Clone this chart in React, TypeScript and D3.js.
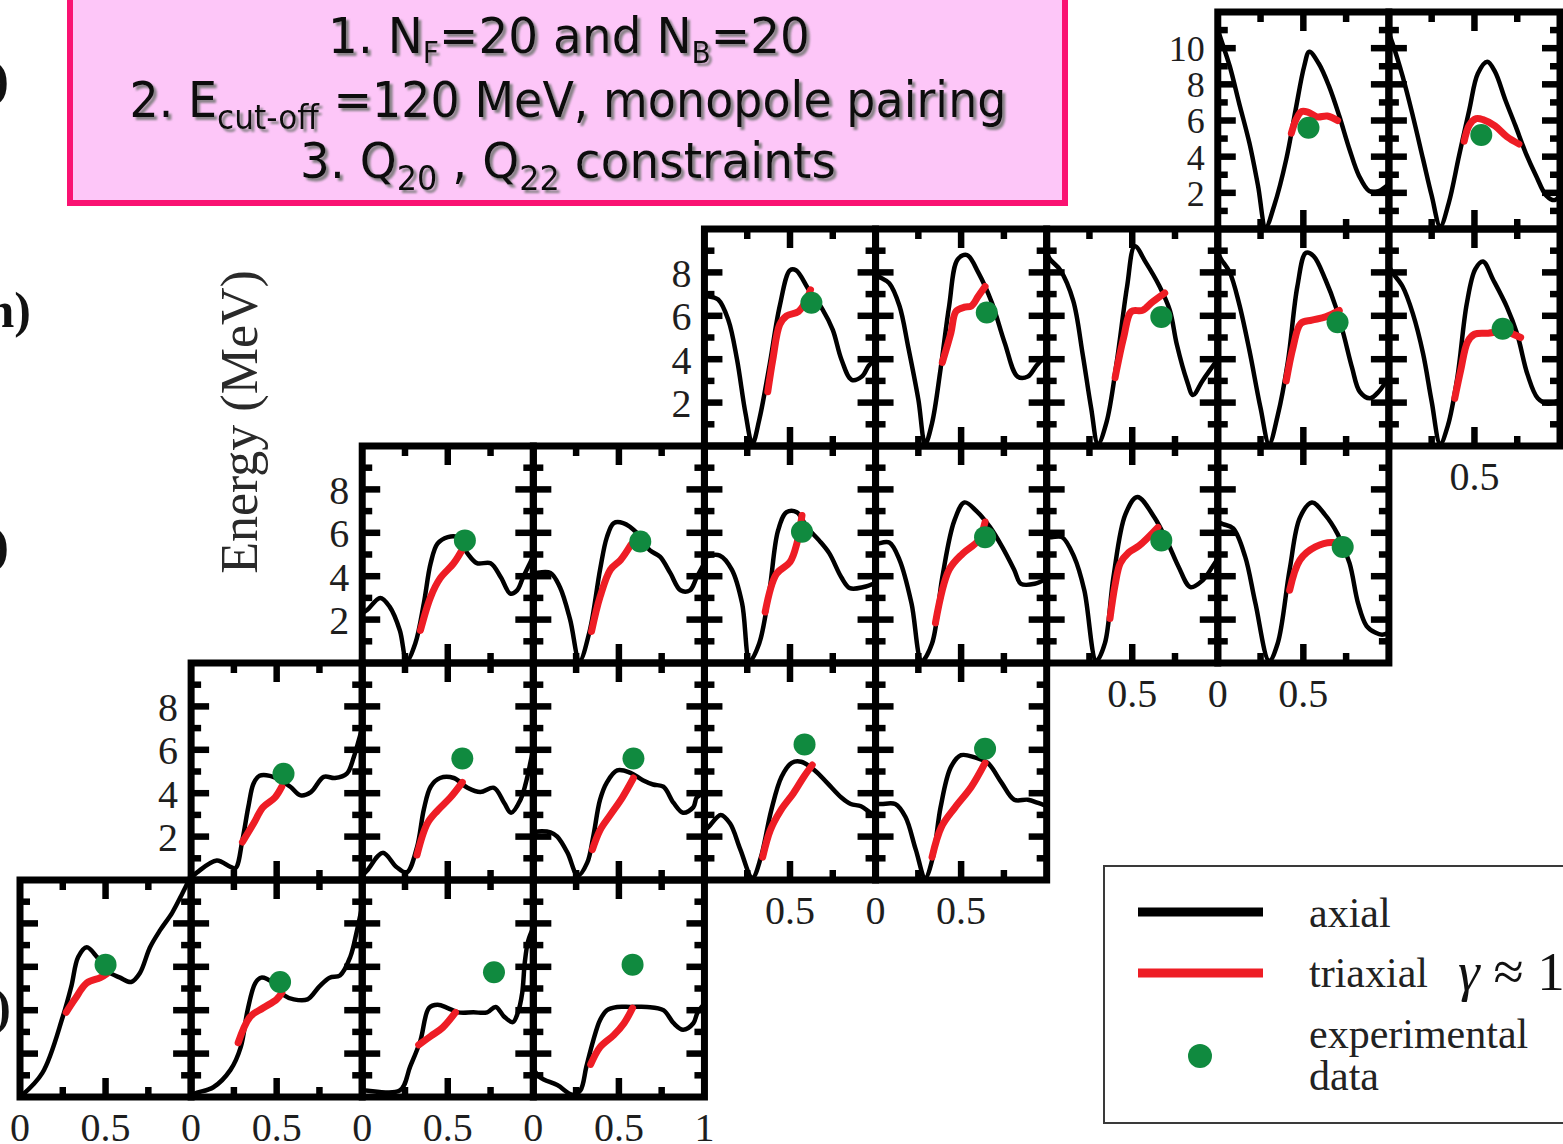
import React from 'react';
import * as d3 from 'd3';

const W = 1563;
const H = 1144;

// Panel placement in the staircase grid (row, column)
const panelRows = [0, 0, 1, 1, 1, 1, 1, 2, 2, 2, 2, 2, 2, 3, 3, 3, 3, 3, 4, 4, 4, 4];
const panelCols = [7, 8, 4, 5, 6, 7, 8, 2, 3, 4, 5, 6, 7, 1, 2, 3, 4, 5, 0, 1, 2, 3];

// Energy range (MeV) of each row and its labelled ticks
const rowMaxEnergy = [12, 10, 10, 10, 10];
const rowYLabels = [[2, 4, 6, 8, 10], [2, 4, 6, 8], [2, 4, 6, 8], [2, 4, 6, 8], []];
const rowYLabelSize = [36, 40, 40, 40, 40];

// Deformation tick labels drawn under each panel
const panelXLabels = [
  [], [],
  [], [], [], [], [0.5],
  [], [], [], [], [0.5], [0, 0.5],
  [], [], [], [0.5], [0, 0.5],
  [0, 0.5], [0, 0.5], [0, 0.5], [0, 0.5, 1],
];

// Axial energy curves: [deformation, energy MeV]
const axialCurves: [number, number][][] = [
  [[0, 11.0], [0.02, 10.45], [0.07, 9.0], [0.125, 6.95], [0.185, 4.75], [0.235, 2.4], [0.28, 0.1], [0.33, 1.3], [0.4, 3.85], [0.455, 6.6], [0.505, 9.0], [0.535, 9.8], [0.59, 9.15], [0.65, 7.9], [0.71, 6.25], [0.77, 4.4], [0.825, 2.95], [0.885, 2.1], [0.94, 2.1], [1, 2.5]],
  [[0, 10.8], [0.02, 10.3], [0.08, 8.45], [0.14, 6.25], [0.2, 3.85], [0.25, 1.85], [0.3, 0.15], [0.35, 1.45], [0.41, 4.05], [0.47, 6.6], [0.52, 8.6], [0.575, 9.25], [0.62, 8.7], [0.68, 7.15], [0.74, 5.7], [0.8, 4.2], [0.86, 2.95], [0.92, 1.85], [0.97, 1.6], [1, 1.9]],
  [[0, 6.9], [0.02, 6.9], [0.08, 6.75], [0.14, 5.8], [0.19, 4.0], [0.24, 1.5], [0.28, 0.1], [0.32, 1.2], [0.38, 3.7], [0.44, 6.45], [0.5, 8.1], [0.535, 8.1], [0.61, 7.2], [0.69, 6.3], [0.75, 5.35], [0.8, 4.0], [0.86, 3.05], [0.92, 3.2], [0.96, 3.7], [1, 4.0]],
  [[0, 7.9], [0.02, 7.8], [0.08, 7.5], [0.14, 6.45], [0.19, 4.6], [0.25, 2.15], [0.29, 0.1], [0.33, 1.05], [0.38, 3.55], [0.43, 6.45], [0.48, 8.6], [0.535, 8.8], [0.6, 8.0], [0.68, 6.6], [0.755, 4.75], [0.83, 3.2], [0.89, 3.2], [0.94, 3.7], [1, 4.2]],
  [[0, 8.9], [0.02, 8.6], [0.08, 8.1], [0.155, 6.7], [0.21, 4.25], [0.26, 1.75], [0.3, 0.1], [0.35, 1.1], [0.41, 3.9], [0.47, 7.35], [0.515, 9.2], [0.58, 8.45], [0.66, 7.35], [0.72, 6.25], [0.76, 4.7], [0.82, 3.0], [0.855, 2.35], [0.91, 3.0], [0.95, 3.45], [1, 4.0]],
  [[0, 8.9], [0.02, 8.6], [0.07, 8.0], [0.125, 6.55], [0.185, 4.4], [0.25, 1.75], [0.3, 0.1], [0.35, 1.4], [0.41, 3.9], [0.465, 7.35], [0.515, 8.9], [0.56, 8.75], [0.63, 7.65], [0.69, 6.4], [0.735, 5.15], [0.785, 3.6], [0.83, 2.5], [0.89, 2.2], [0.94, 2.5], [1, 3.2]],
  [[0, 8.3], [0.02, 8.0], [0.08, 7.35], [0.14, 6.1], [0.2, 4.25], [0.25, 2.05], [0.3, 0.1], [0.345, 0.95], [0.4, 3.15], [0.455, 6.55], [0.505, 8.15], [0.55, 8.5], [0.61, 7.65], [0.69, 6.4], [0.75, 5.15], [0.81, 3.3], [0.87, 2.2], [0.93, 1.95], [0.98, 2.05], [1, 2.1]],
  [[0, 2.3], [0.03, 2.45], [0.105, 3.0], [0.16, 2.6], [0.22, 1.5], [0.26, 0.1], [0.31, 0.9], [0.36, 2.75], [0.4, 4.6], [0.44, 5.5], [0.5, 5.8], [0.555, 5.8], [0.615, 5.05], [0.67, 4.6], [0.75, 4.6], [0.81, 3.95], [0.865, 3.2], [0.905, 3.35], [0.94, 3.95], [0.98, 4.6], [1, 4.9]],
  [[0, 4.1], [0.02, 4.15], [0.1, 4.15], [0.155, 3.5], [0.215, 2.0], [0.27, 0.1], [0.33, 1.5], [0.39, 4.3], [0.43, 5.8], [0.47, 6.45], [0.525, 6.45], [0.605, 6.0], [0.68, 5.2], [0.74, 4.9], [0.8, 4.15], [0.86, 3.35], [0.915, 3.35], [0.955, 3.95], [1, 4.6]],
  [[0, 4.85], [0.01, 4.9], [0.09, 4.95], [0.16, 4.3], [0.22, 2.75], [0.265, 0.1], [0.32, 0.9], [0.38, 3.35], [0.43, 6.1], [0.48, 6.95], [0.54, 6.95], [0.6, 6.25], [0.67, 5.65], [0.73, 5.05], [0.8, 3.95], [0.85, 3.45], [0.93, 3.5], [1, 3.7]],
  [[0, 5.5], [0.01, 5.5], [0.08, 5.55], [0.14, 4.75], [0.21, 2.75], [0.27, 0.1], [0.33, 0.9], [0.39, 3.95], [0.46, 6.55], [0.52, 7.4], [0.59, 7.0], [0.67, 6.25], [0.74, 5.35], [0.81, 4.3], [0.85, 3.65], [0.93, 3.65], [1, 3.9]],
  [[0, 5.8], [0.03, 5.8], [0.09, 5.8], [0.16, 4.9], [0.22, 3.35], [0.29, 0.1], [0.34, 0.9], [0.39, 3.95], [0.46, 6.85], [0.53, 7.65], [0.63, 6.7], [0.71, 5.5], [0.77, 4.45], [0.84, 3.5], [0.91, 3.8], [0.97, 4.45], [1, 4.8]],
  [[0, 6.5], [0.03, 6.4], [0.09, 6.2], [0.16, 4.9], [0.22, 2.75], [0.3, 0.1], [0.35, 0.9], [0.42, 4.3], [0.48, 6.7], [0.55, 7.4], [0.625, 6.85], [0.7, 5.95], [0.77, 4.6], [0.82, 2.75], [0.87, 1.7], [0.92, 1.4], [0.96, 1.3], [1, 1.4]],
  [[0, 0.1], [0.035, 0.35], [0.15, 0.9], [0.23, 0.6], [0.26, 0.55], [0.3, 1.85], [0.335, 3.4], [0.365, 4.45], [0.4, 4.8], [0.46, 4.8], [0.52, 4.6], [0.58, 4.3], [0.64, 3.9], [0.7, 4.05], [0.775, 4.75], [0.84, 4.7], [0.91, 4.9], [0.95, 5.65], [0.98, 6.45], [1, 7.0]],
  [[0, 0.2], [0.03, 0.45], [0.12, 1.25], [0.2, 0.6], [0.26, 0.35], [0.32, 1.5], [0.36, 3.25], [0.4, 4.3], [0.455, 4.7], [0.535, 4.7], [0.615, 4.25], [0.69, 4.05], [0.77, 4.25], [0.83, 3.55], [0.87, 3.1], [0.925, 3.7], [0.965, 4.75], [0.985, 5.5], [1, 6.0]],
  [[0, 2.2], [0.05, 2.25], [0.1, 2.2], [0.14, 2.0], [0.2, 1.25], [0.26, 0.2], [0.315, 0.8], [0.35, 2.0], [0.39, 3.7], [0.43, 4.5], [0.49, 5.05], [0.565, 4.95], [0.64, 4.6], [0.7, 4.4], [0.76, 4.3], [0.82, 3.55], [0.875, 3.1], [0.935, 3.35], [0.955, 3.8], [1, 4.0]],
  [[0, 2.3], [0.025, 2.45], [0.095, 3.0], [0.15, 2.6], [0.21, 1.4], [0.28, 0.1], [0.33, 1.05], [0.39, 3.2], [0.45, 4.75], [0.51, 5.4], [0.565, 5.45], [0.645, 5.05], [0.72, 4.45], [0.8, 3.8], [0.855, 3.5], [0.915, 3.4], [0.97, 3.1], [1, 3.0]],
  [[0, 3.5], [0.035, 3.5], [0.115, 3.5], [0.175, 2.9], [0.235, 1.4], [0.29, 0.1], [0.335, 1.05], [0.38, 3.35], [0.44, 5.2], [0.5, 5.75], [0.58, 5.65], [0.655, 5.4], [0.735, 4.5], [0.81, 3.7], [0.89, 3.7], [0.95, 3.55], [1, 3.4]],
  [[0, 0], [0.13, 1.1], [0.25, 3.7], [0.3, 5.1], [0.34, 6.45], [0.39, 6.9], [0.45, 6.45], [0.51, 5.8], [0.585, 5.5], [0.65, 5.3], [0.7, 5.7], [0.76, 6.9], [0.82, 7.7], [0.89, 8.5], [0.95, 9.4], [1, 10.2]],
  [[0, 0.1], [0.035, 0.2], [0.13, 0.45], [0.23, 1.25], [0.29, 2.3], [0.33, 4.0], [0.375, 5.25], [0.41, 5.5], [0.48, 5.25], [0.54, 4.7], [0.6, 4.5], [0.68, 4.5], [0.75, 5.1], [0.81, 5.5], [0.87, 5.6], [0.93, 6.45], [0.97, 7.7], [1, 8.8]],
  [[0, 0.3], [0.02, 0.3], [0.22, 0.3], [0.28, 1.4], [0.34, 2.6], [0.39, 4.1], [0.44, 4.25], [0.5, 4.1], [0.56, 3.9], [0.65, 3.9], [0.73, 3.9], [0.78, 4.15], [0.83, 3.7], [0.88, 3.45], [0.91, 3.9], [0.935, 4.8], [0.95, 6.2], [0.97, 7.2], [1, 7.8]],
  [[0, 1.3], [0.04, 0.9], [0.14, 0.55], [0.23, 0.1], [0.275, 0.3], [0.31, 1.4], [0.35, 2.6], [0.39, 3.55], [0.43, 4.0], [0.49, 4.15], [0.57, 4.15], [0.665, 4.15], [0.76, 4.0], [0.82, 3.4], [0.875, 3.1], [0.935, 3.4], [0.96, 3.9], [1, 4.3]],
];

// Triaxial energy paths: [deformation, energy MeV]
const triaxialCurves: [number, number][][] = [
  [[0.43, 5.3], [0.46, 6.1], [0.49, 6.5], [0.53, 6.45], [0.58, 6.2], [0.64, 6.25], [0.7, 6.0]],
  [[0.44, 4.85], [0.47, 5.75], [0.51, 6.1], [0.55, 6.05], [0.62, 5.7], [0.69, 5.1], [0.76, 4.7]],
  [[0.37, 2.5], [0.4, 4.0], [0.44, 5.6], [0.48, 6.0], [0.55, 6.2], [0.6, 6.8], [0.62, 7.2]],
  [[0.39, 3.85], [0.44, 5.2], [0.47, 6.2], [0.52, 6.4], [0.56, 6.45], [0.6, 6.9], [0.64, 7.35]],
  [[0.4, 3.15], [0.45, 5.0], [0.495, 6.2], [0.56, 6.25], [0.62, 6.65], [0.69, 7.05]],
  [[0.4, 3.0], [0.44, 4.55], [0.485, 5.65], [0.55, 5.8], [0.63, 5.95], [0.71, 6.25]],
  [[0.385, 2.2], [0.42, 3.5], [0.46, 4.8], [0.5, 5.15], [0.58, 5.2], [0.68, 5.25], [0.77, 5.0]],
  [[0.34, 1.5], [0.4, 3.05], [0.455, 3.9], [0.535, 4.6], [0.59, 5.3]],
  [[0.34, 1.45], [0.39, 3.05], [0.45, 4.3], [0.51, 4.75], [0.57, 5.45]],
  [[0.355, 2.35], [0.42, 4.1], [0.5, 4.65], [0.54, 5.5], [0.57, 6.8]],
  [[0.35, 1.85], [0.43, 4.3], [0.51, 5.05], [0.6, 5.65], [0.64, 6.5]],
  [[0.37, 2.05], [0.4, 3.6], [0.43, 4.6], [0.48, 5.1], [0.54, 5.4], [0.65, 6.25]],
  [[0.42, 3.35], [0.48, 4.75], [0.57, 5.35], [0.675, 5.55], [0.73, 5.35]],
  [[0.3, 1.75], [0.365, 2.6], [0.42, 3.35], [0.49, 3.8], [0.53, 4.3]],
  [[0.32, 1.15], [0.38, 2.6], [0.44, 3.2], [0.515, 3.8], [0.585, 4.5]],
  [[0.345, 1.4], [0.39, 2.3], [0.45, 3.0], [0.52, 3.8], [0.585, 4.7]],
  [[0.34, 1.05], [0.385, 2.3], [0.445, 3.2], [0.52, 4.0], [0.58, 4.75], [0.63, 5.3]],
  [[0.33, 1.05], [0.385, 2.45], [0.465, 3.35], [0.56, 4.3], [0.64, 5.4]],
  [[0.27, 3.9], [0.32, 4.5], [0.39, 5.25], [0.47, 5.5], [0.51, 5.7]],
  [[0.275, 2.5], [0.345, 3.7], [0.42, 4.1], [0.5, 4.5], [0.53, 4.8]],
  [[0.33, 2.4], [0.4, 2.8], [0.47, 3.2], [0.545, 3.9]],
  [[0.335, 1.5], [0.39, 2.3], [0.47, 2.85], [0.53, 3.4], [0.58, 4.1]],
];

// Experimental data points: [deformation, energy MeV]
const experimentalPoints: [number, number][] = [
  [0.53, 5.6], [0.54, 5.2],
  [0.625, 6.6], [0.65, 6.15], [0.67, 5.95], [0.7, 5.7], [0.665, 5.4],
  [0.6, 5.65], [0.625, 5.6], [0.57, 6.05], [0.64, 5.8], [0.67, 5.65], [0.73, 5.35],
  [0.54, 4.9], [0.585, 5.6], [0.585, 5.6], [0.585, 6.25], [0.64, 6.05],
  [0.5, 6.1], [0.52, 5.3], [0.77, 5.75], [0.58, 6.1],
];

const legendItems = ['axial', 'triaxial', 'experimental'];

const colX = d3.scaleLinear().domain([0, 9]).range([20, 1560]);
const rowY = d3.scaleLinear().domain([0, 5]).range([12, 1097]);

const SERIF = '"Liberation Serif", "DejaVu Serif", "Times New Roman", serif';
const TITLE_FONT = '"DejaVu Sans Condensed", "DejaVu Sans", Verdana, sans-serif';
const RED = '#EE1D25';
const GREEN = '#108A3F';

function fmt(v: number) {
  return v === 0 ? '0' : v === 1 ? '1' : String(v);
}

function panelGeom(i: number) {
  const r = panelRows[i];
  const c = panelCols[i];
  const left = colX(c);
  const right = colX(c + 1);
  const top = rowY(r);
  const bottom = rowY(r + 1);
  const xs = d3.scaleLinear().domain([0, 1]).range([left, right]);
  const ys = d3.scaleLinear().domain([0, rowMaxEnergy[r]]).range([bottom, top]);
  return { r, c, left, right, top, bottom, xs, ys };
}

function PanelData({ i }: { i: number }) {
  const g = panelGeom(i);
  const line = d3
    .line<[number, number]>()
    .curve(d3.curveCatmullRom.alpha(0.5))
    .x((d) => g.xs(d[0]))
    .y((d) => g.ys(d[1]));
  const dot = experimentalPoints[i];
  return (
    <g>
      <g clipPath={`url(#clip${i})`}>
        <path d={line(axialCurves[i]) || ''} fill="none" stroke="#000" strokeWidth={4.5} strokeLinejoin="round" />
        <path d={line(triaxialCurves[i]) || ''} fill="none" stroke={RED} strokeWidth={7} strokeLinecap="round" strokeLinejoin="round" />
      </g>
      <circle cx={g.xs(dot[0])} cy={g.ys(dot[1])} r={11} fill={GREEN} />
    </g>
  );
}

function PanelFrame({ i }: { i: number }) {
  const g = panelGeom(i);
  const max = rowMaxEnergy[g.r];
  const yTicks = d3.range(1, max);
  const xTicks = [0.25, 0.5, 0.75];
  const tw = 6.5;
  return (
    <g stroke="#000">
      <rect x={g.left} y={g.top} width={g.right - g.left} height={g.bottom - g.top} fill="none" strokeWidth={7} />
      {yTicks.map((v) => {
        const len = v % 2 === 0 ? 18 : 10;
        const y = g.ys(v);
        return (
          <g key={`y${v}`} strokeWidth={tw}>
            <line x1={g.left} x2={g.left + len} y1={y} y2={y} />
            <line x1={g.right} x2={g.right - len} y1={y} y2={y} />
          </g>
        );
      })}
      {xTicks.map((v) => {
        const len = v === 0.5 ? 19 : 10;
        const x = g.xs(v);
        return (
          <g key={`x${v}`} strokeWidth={tw}>
            <line x1={x} x2={x} y1={g.bottom} y2={g.bottom - len} />
            <line x1={x} x2={x} y1={g.top} y2={g.top + len} />
          </g>
        );
      })}
    </g>
  );
}

function PanelLabels({ i }: { i: number }) {
  const g = panelGeom(i);
  const firstInRow = panelRows.indexOf(g.r) === i;
  const yLabels = firstInRow ? rowYLabels[g.r] : [];
  return (
    <g fontFamily={SERIF} fill="#1e1e1e">
      {yLabels.map((v) => (
        <text key={`yl${v}`} x={g.left - 13} y={g.ys(v)} dy="0.36em" textAnchor="end" fontSize={rowYLabelSize[g.r]}>
          {v}
        </text>
      ))}
      {panelXLabels[i].map((v) => (
        <text key={`xl${v}`} x={g.xs(v)} y={g.bottom + 44} textAnchor="middle" fontSize={40}>
          {fmt(v)}
        </text>
      ))}
    </g>
  );
}

export default function App() {
  const idx = d3.range(panelRows.length);
  return (
    <svg
      width={W}
      height={H}
      viewBox={`0 0 ${W} ${H}`}
      style={{ position: 'absolute', left: 0, top: 0, background: '#fff' }}
    >
      <defs>
        {idx.map((i) => {
          const g = panelGeom(i);
          return (
            <clipPath id={`clip${i}`} key={i}>
              <rect x={g.left} y={g.top} width={g.right - g.left} height={g.bottom - g.top} />
            </clipPath>
          );
        })}
        <filter id="titleShadow" x="-5%" y="-20%" width="110%" height="140%">
          <feDropShadow dx="3" dy="3" stdDeviation="1.2" floodColor="#7a7a7a" floodOpacity="0.9" />
        </filter>
      </defs>
      <rect x={0} y={0} width={W} height={H} fill="#fff" />

      {/* Title box */}
      <rect x={70} y={-8} width={995} height={211} fill="#FDC6F8" stroke="#FA1272" strokeWidth={6} />
      <g fontFamily={TITLE_FONT} fill="#111" filter="url(#titleShadow)" textAnchor="middle">
        <text x={569} y={53} fontSize={50} textLength={482} lengthAdjust="spacingAndGlyphs">
          1. N<tspan dy={10} fontSize={30}>F</tspan>
          <tspan dy={-10}>=20 and N</tspan>
          <tspan dy={10} fontSize={30}>B</tspan>
          <tspan dy={-10}>=20</tspan>
        </text>
        <text x={568} y={117} fontSize={50} textLength={877} lengthAdjust="spacingAndGlyphs">
          2. E<tspan dy={12} fontSize={34}>cut-off</tspan>
          <tspan dy={-12}> =120 MeV, monopole pairing</tspan>
        </text>
        <text x={568} y={178} fontSize={50} textLength={536} lengthAdjust="spacingAndGlyphs">
          3. Q<tspan dy={12} fontSize={34}>20</tspan>
          <tspan dy={-12}> , Q</tspan>
          <tspan dy={12} fontSize={34}>22</tspan>
          <tspan dy={-12}> constraints</tspan>
        </text>
      </g>

      {/* Row tags at the left edge */}
      <g fontFamily={SERIF} fontWeight="bold" fontSize={50} fill="#111" textAnchor="end">
        <text x={9} y={96}>)</text>
        <text x={31} y={327}>n)</text>
        <text x={9} y={562}>)</text>
        <text x={11} y={1024}>)</text>
      </g>

      {/* Energy axis title */}
      <text
        transform="translate(257,422) rotate(-90)"
        textAnchor="middle"
        fontFamily={SERIF}
        fontSize={52}
        fill="#2a2a2a"
      >
        Energy (MeV)
      </text>

      {idx.map((i) => (
        <PanelData i={i} key={`d${i}`} />
      ))}
      {idx.map((i) => (
        <PanelFrame i={i} key={`f${i}`} />
      ))}
      {idx.map((i) => (
        <PanelLabels i={i} key={`l${i}`} />
      ))}

      {/* Legend */}
      <g>
        <rect x={1104} y={866} width={480} height={257} fill="#fff" stroke="#3a3a3a" strokeWidth={2} />
        <line x1={1138} x2={1263} y1={912} y2={912} stroke="#000" strokeWidth={9} />
        <line x1={1138} x2={1263} y1={973} y2={973} stroke={RED} strokeWidth={9} />
        <circle cx={1200} cy={1056} r={12} fill={GREEN} />
        <g fontFamily={SERIF} fontSize={42} fill="#222">
          <text x={1309} y={927}>{legendItems[0]}</text>
          <text x={1309} y={987}>{legendItems[1]}</text>
          <text x={1309} y={1048}>{legendItems[2]}</text>
          <text x={1309} y={1090}>data</text>
        </g>
        <text x={1458} y={990} fontFamily={SERIF} fontSize={55} fill="#111">
          <tspan fontStyle="italic">γ</tspan> ≈ 1
        </text>
      </g>
    </svg>
  );
}
